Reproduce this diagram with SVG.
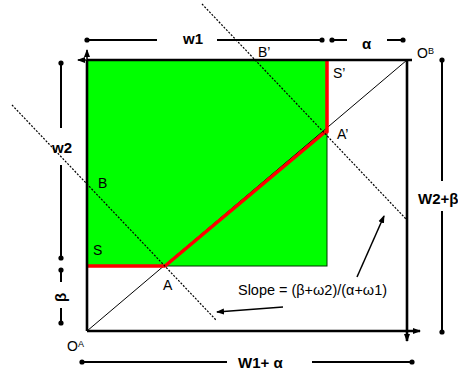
<svg xmlns="http://www.w3.org/2000/svg" width="458" height="375" viewBox="0 0 458 375">
<defs>
<marker id="dot" markerWidth="6" markerHeight="6" refX="3" refY="3" markerUnits="userSpaceOnUse"><circle cx="3" cy="3" r="2.6" fill="#000"/></marker>
<marker id="arr" markerWidth="8" markerHeight="8" refX="7" refY="4" orient="auto" markerUnits="userSpaceOnUse"><path d="M0,1 L8,4 L0,7 Z" fill="#000"/></marker>
</defs>
<style>
.t{font-family:"Liberation Sans",Arial,sans-serif;font-size:14px;fill:#000}
.b{font-weight:bold;font-size:15px}
.dim{stroke:#000;stroke-width:2;fill:none}
.dash{stroke:#000;stroke-width:1.2;stroke-dasharray:2 1.5;fill:none}
.box{stroke:#000;stroke-width:2.6;fill:none}
</style>
<rect width="458" height="375" fill="#fff"/>
<g id="green-region">
<rect x="87" y="60" width="240" height="206" fill="#00ff00" stroke="#003300" stroke-width="1"/>
</g>
<g id="connectors">
<line x1="87" y1="331" x2="407" y2="60" stroke="#000" stroke-width="1"/>
<polyline points="87,266 165,266 325,132 327,132 327,60" fill="none" stroke="#ff0000" stroke-width="3.5" stroke-linejoin="round"/>
<line class="dash" x1="12" y1="105" x2="216" y2="320"/>
<line class="dash" x1="202" y1="4" x2="406" y2="219"/>
<line class="box" x1="87" y1="60" x2="412" y2="60"/>
<line class="box" x1="87" y1="60" x2="87" y2="331"/>
<line class="box" x1="87" y1="331" x2="420" y2="331" marker-end="url(#arr)"/>
<line class="box" x1="407" y1="60" x2="407" y2="341" marker-end="url(#arr)"/>
<line stroke="#000" stroke-width="1.5" x1="87" y1="59" x2="87" y2="50" marker-end="url(#arr)"/>
<line stroke="#000" stroke-width="1.5" x1="87" y1="60" x2="78" y2="60" marker-end="url(#arr)"/>
<line class="dim" x1="87" y1="40" x2="157" y2="40" marker-start="url(#dot)"/>
<line class="dim" x1="217" y1="40" x2="322" y2="40" marker-end="url(#dot)"/>
<line class="dim" x1="332" y1="40" x2="347" y2="40" marker-start="url(#dot)"/>
<line class="dim" x1="387" y1="40" x2="403" y2="40" marker-end="url(#dot)"/>
<line class="dim" x1="61" y1="63" x2="61" y2="128" marker-start="url(#dot)"/>
<line class="dim" x1="61" y1="165" x2="61" y2="258" marker-end="url(#dot)"/>
<line class="dim" x1="61" y1="270" x2="61" y2="282" marker-start="url(#dot)"/>
<line class="dim" x1="61" y1="308" x2="61" y2="323" marker-end="url(#dot)"/>
<line class="dim" x1="442" y1="60" x2="442" y2="181" marker-start="url(#dot)"/>
<line class="dim" x1="442" y1="211" x2="442" y2="332" marker-end="url(#dot)"/>
<line class="dim" x1="82" y1="362" x2="227" y2="362" marker-start="url(#dot)"/>
<line class="dim" x1="312" y1="362" x2="412" y2="362" marker-end="url(#dot)"/>
<line stroke="#000" stroke-width="1.5" x1="357" y1="277" x2="384" y2="216" marker-end="url(#arr)"/>
<line stroke="#000" stroke-width="1.5" x1="283" y1="307" x2="217" y2="312" marker-end="url(#arr)"/>
</g>
<g id="labels">
<text class="t b" x="183" y="44">w1</text>
<text class="t b" x="362" y="49">α</text>
<text class="t b" x="52" y="153">w2</text>
<text class="t b" transform="translate(66,302) rotate(-90)">β</text>
<text class="t b" x="418" y="204">W2+β</text>
<text class="t b" x="238" y="368">W1+ α</text>
<text class="t" x="238" y="295" textLength="149" lengthAdjust="spacingAndGlyphs">Slope = (β+ω2)/(α+ω1)</text>
<text class="t" x="258" y="57">B’</text>
<text class="t" x="333" y="78">S’</text>
<text class="t" x="337" y="139">A’</text>
<text class="t" x="98" y="188">B</text>
<text class="t" x="93" y="255">S</text>
<text class="t" x="163" y="290">A</text>
<text class="t" x="67" y="351">O<tspan font-size="9" dy="-4">A</tspan></text>
<text class="t" x="417" y="58">O<tspan font-size="9" dy="-4">B</tspan></text>
</g>
</svg>
